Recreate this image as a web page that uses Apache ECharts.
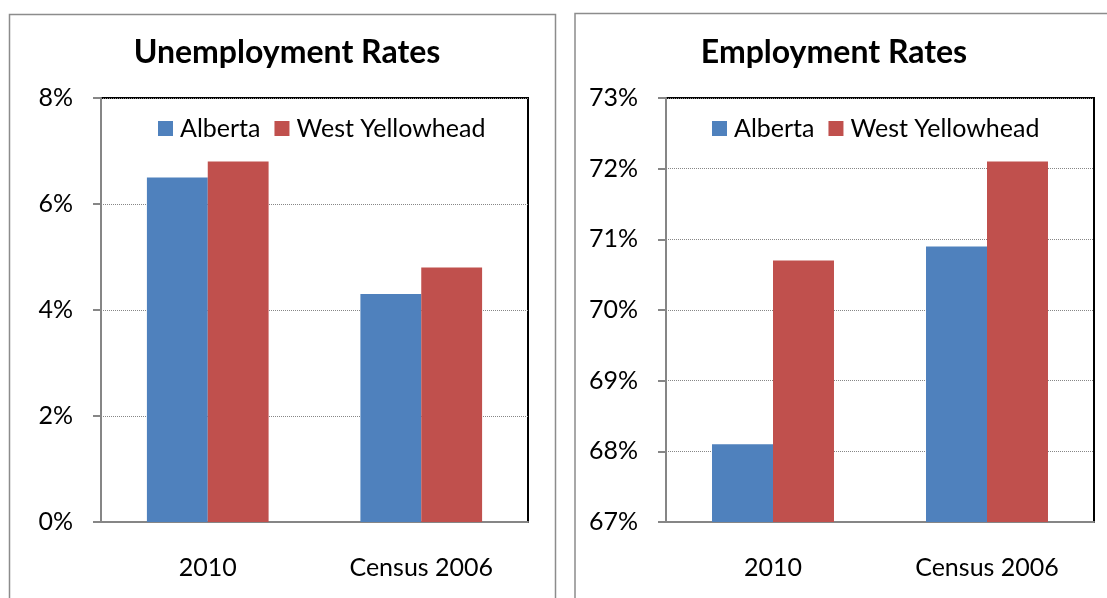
<!DOCTYPE html>
<html>
<head>
<meta charset="utf-8">
<script src="https://cdn.jsdelivr.net/npm/echarts@6/dist/echarts.min.js"></script>
<style>
  html, body { margin:0; padding:0; background:#fff; }
  #main { width:1107px; height:598px; }
</style>
</head>
<body>
<div id="main"></div>
<script>
// categories and series
const categories = ['2010', 'Census 2006']
const seriesNames = ['Alberta', 'West Yellowhead']

// unemployment rates (%)
const unempAlberta = [6.5, 4.3]
const unempWestYellowhead = [6.8, 4.8]

// employment rates (%)
const empAlberta = [68.1, 70.9]
const empWestYellowhead = [70.7, 72.1]

const FONT = 'Lato'
const BLUE = '#4F81BD'
const RED  = '#C0504D'
const AXIS = '#868686'

function xAxisCfg(gridIndex) {
  return {
    type:'category', gridIndex, data:categories,
    axisLine:{ lineStyle:{ color:AXIS, width:2 } },
    axisTick:{ length:8, lineStyle:{ color:AXIS, width:2 } },
    axisLabel:{ color:'#000', fontFamily:FONT, fontSize:25, margin:33 }
  }
}

function yAxisCfg(gridIndex, min, max, interval) {
  return {
    type:'value', gridIndex, min, max, interval,
    axisLine:{ show:true, lineStyle:{ color:AXIS, width:2 } },
    axisTick:{ show:true, length:8, lineStyle:{ color:AXIS, width:2 } },
    axisLabel:{ color:'#000', fontFamily:FONT, fontSize:25, margin:28, formatter:'{value}%' },
    splitLine:{ lineStyle:{ color:AXIS, type:'dotted', width:1 } }
  }
}

function legendCfg(left) {
  return {
    left, top:111, itemWidth:15, itemHeight:15, itemGap:14, icon:'rect',
    data:seriesNames,
    textStyle:{ color:'#000', fontFamily:FONT, fontSize:25, padding:[0,0,0,2] }
  }
}

function barSeries(name, data, color, idx) {
  return {
    name, type:'bar', xAxisIndex:idx, yAxisIndex:idx, data,
    itemStyle:{ color }, barGap:'0%', barCategoryGap:'43%'
  }
}

const chart = echarts.init(document.getElementById('main'), null, { renderer:'canvas' })
chart.setOption({
  animation:false,
  title:[
    { text:'Unemployment Rates', left:282, top:32, textAlign:'center',
      textStyle:{ fontFamily:FONT, fontWeight:'bold', fontSize:32, color:'#000' } },
    { text:'Employment Rates', left:829, top:32, textAlign:'center',
      textStyle:{ fontFamily:FONT, fontWeight:'bold', fontSize:32, color:'#000' } }
  ],
  legend:[ legendCfg(153), legendCfg(707) ],
  grid:[
    { left:101, right:579, top:98, bottom:76, show:true, borderColor:'#000', borderWidth:2 },
    { left:666, right:13, top:98, bottom:76, show:true, borderColor:'#000', borderWidth:2 }
  ],
  xAxis:[ xAxisCfg(0), xAxisCfg(1) ],
  yAxis:[ yAxisCfg(0, 0, 8, 2), yAxisCfg(1, 67, 73, 1) ],
  graphic:[
    { type:'rect', shape:{ x:9.5, y:14.5, width:546, height:620 },
      style:{ fill:'none', stroke:'#8c8c8c', lineWidth:1.5 }, silent:true },
    { type:'rect', shape:{ x:575, y:13.5, width:560, height:620 },
      style:{ fill:'none', stroke:'#8c8c8c', lineWidth:1.5 }, silent:true }
  ],
  series:[
    barSeries(seriesNames[0], unempAlberta, BLUE, 0),
    barSeries(seriesNames[1], unempWestYellowhead, RED, 0),
    barSeries(seriesNames[0], empAlberta, BLUE, 1),
    barSeries(seriesNames[1], empWestYellowhead, RED, 1)
  ]
})
</script>
</body>
</html>
